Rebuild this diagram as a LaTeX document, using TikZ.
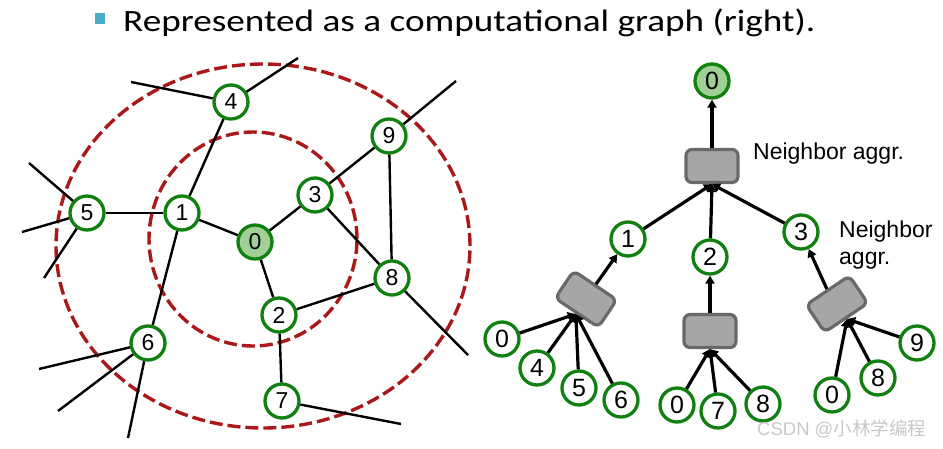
\documentclass[tikz,border=0pt]{standalone}
\usepackage{fontspec}
\setmainfont{Liberation Sans}
\newfontfamily\titlefont{Carlito}
\newfontfamily\cjkfont{Noto Sans CJK SC}
\usetikzlibrary{arrows.meta}
\definecolor{gr}{RGB}{16,128,16}
\definecolor{grfill}{RGB}{160,208,150}
\definecolor{dred}{RGB}{170,25,25}
\definecolor{boxfill}{RGB}{166,166,166}
\definecolor{boxline}{RGB}{105,105,105}
\definecolor{bulletc}{RGB}{75,172,198}
\definecolor{wm}{RGB}{200,200,200}
\begin{document}
\begin{tikzpicture}[x=1pt,y=-1pt,
 gn/.style={circle,draw=gr,line width=3.3pt,fill=white,minimum size=34pt,inner sep=0pt,font=\fontsize{23}{23}\selectfont},
 gnr/.style={gn,font=\fontsize{25}{25}\selectfont},
 root/.style={fill=grfill},
 edge/.style={line width=2.4pt},
 ring/.style={draw=dred,line width=3.4pt,dash pattern=on 13pt off 5pt},
 aggbox/.style={rectangle,rounded corners=6pt,draw=boxline,fill=boxfill,line width=3.2pt,minimum width=52pt,minimum height=33pt,inner sep=0pt},
 arr/.style={line width=3.2pt,-{Triangle[length=8pt,width=9pt]}},
 lbl/.style={font=\fontsize{23}{27}\selectfont,anchor=base west,inner sep=0pt}]
\path[use as bounding box] (0,0) rectangle (943,448);

% title
\fill[bulletc] (95,13) rectangle (105,24);
\node[anchor=base west,inner sep=0pt,xscale=1.2,font=\titlefont\fontsize{31}{31}\selectfont] (title) at (123,31) {Represented as a computational graph (right).};

% rings
\draw[ring] (263,246) ellipse [x radius=207pt, y radius=182pt];
\draw[ring] (253,239) ellipse [x radius=104pt, y radius=107pt];

% left graph nodes
\node[gn] (n4) at (231,102) {4};
\node[gn] (n9) at (389,136) {9};
\node[gn] (n3) at (315,195) {3};
\node[gn] (n5) at (87,213) {5};
\node[gn] (n1) at (182,213) {1};
\node[gn,root] (n0) at (255,242) {0};
\node[gn] (n8) at (392,278) {8};
\node[gn] (n2) at (279,315) {2};
\node[gn] (n6) at (148,343) {6};
\node[gn] (n7) at (282,401) {7};

\coordinate (d4a) at (131,82);
\coordinate (d4b) at (298,58);
\coordinate (d9) at (456,81);
\coordinate (d5a) at (29,163);
\coordinate (d5b) at (22,232);
\coordinate (d5c) at (44,278);
\coordinate (d6a) at (39,369);
\coordinate (d6b) at (58,411);
\coordinate (d6c) at (128,438);
\coordinate (d8) at (468,355);
\coordinate (d7) at (401,424);

% edges
\draw[edge] (n4) -- (n1);
\draw[edge] (n5) -- (n1);
\draw[edge] (n1) -- (n0);
\draw[edge] (n1) -- (n6);
\draw[edge] (n0) -- (n3);
\draw[edge] (n0) -- (n2);
\draw[edge] (n3) -- (n9);
\draw[edge] (n3) -- (n8);
\draw[edge] (n9) -- (n8);
\draw[edge] (n2) -- (n8);
\draw[edge] (n2) -- (n7);
\draw[edge] (n4) -- (d4a);
\draw[edge] (n4) -- (d4b);
\draw[edge] (n9) -- (d9);
\draw[edge] (n5) -- (d5a);
\draw[edge] (n5) -- (d5b);
\draw[edge] (n5) -- (d5c);
\draw[edge] (n6) -- (d6a);
\draw[edge] (n6) -- (d6b);
\draw[edge] (n6) -- (d6c);
\draw[edge] (n8) -- (d8);
\draw[edge] (n7) -- (d7);

% right tree
\node[gnr,root] (r0) at (712,81) {0};
\node[aggbox] (tb) at (712,166) {};
\node[gnr] (r1) at (628,239) {1};
\node[gnr] (r2) at (710,257) {2};
\node[gnr] (r3) at (801,232) {3};
\node[aggbox,rotate=-34] (lb) at (586,299) {};
\node[aggbox] (mb) at (710,331) {};
\node[aggbox,rotate=34] (rb) at (837,304) {};
\node[gnr] (a0) at (502,339) {0};
\node[gnr] (a4) at (537,368) {4};
\node[gnr] (a5) at (579,388) {5};
\node[gnr] (a6) at (621,400) {6};
\node[gnr] (b0) at (677,405) {0};
\node[gnr] (b7) at (718,411) {7};
\node[gnr] (b8) at (763,404) {8};
\node[gnr] (c0) at (832,395) {0};
\node[gnr] (c8) at (878,378) {8};
\node[gnr] (c9) at (917,343) {9};

\draw[arr] (tb.north) -- (r0);
\draw[arr] (r1) -- (tb.south);
\draw[arr] (r2) -- (tb.south);
\draw[arr] (r3) -- (tb.south);
\draw[arr] (lb.north) -- (r1);
\draw[arr] (mb.north) -- (r2);
\draw[arr] (rb.north) -- (r3);
\draw[arr] (a0) -- (lb.south);
\draw[arr] (a4) -- (lb.south);
\draw[arr] (a5) -- (lb.south);
\draw[arr] (a6) -- (lb.south);
\draw[arr] (b0) -- (mb.south);
\draw[arr] (b7) -- (mb.south);
\draw[arr] (b8) -- (mb.south);
\draw[arr] (c0) -- (rb.south);
\draw[arr] (c8) -- (rb.south);
\draw[arr] (c9) -- (rb.south);

\node[lbl] (lab1) at (753,159) {Neighbor aggr.};
\node[lbl] (lab2) at (839,237) {Neighbor};
\node[lbl] (lab3) at (839,264) {aggr.};

\node[anchor=base west,inner sep=0pt,text=wm,font=\fontsize{18.5}{18.5}\selectfont] (wmk) at (757,435) {CSDN @{\cjkfont 小林学编程}};
\end{tikzpicture}
\end{document}
